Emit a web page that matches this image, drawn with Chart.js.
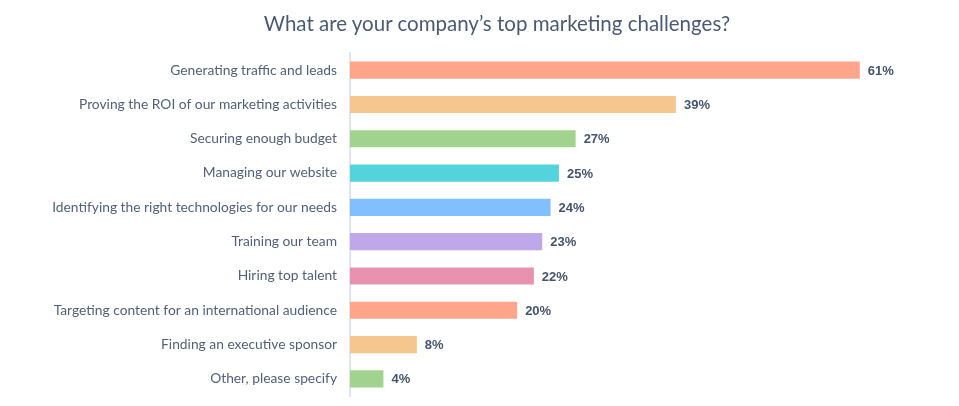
<!DOCTYPE html>
<html>
<head>
<meta charset="utf-8">
<script src="https://cdn.jsdelivr.net/npm/chart.js@4.4.0/dist/chart.umd.min.js"></script>
<style>
  html, body { margin: 0; padding: 0; background: #fff; }
  #wrap { width: 959px; height: 406px; position: relative; }
  #title {
    position: absolute; top: 11px; left: 0; width: 959px;
    box-sizing: border-box; padding-left: 35px;
    text-align: center;
    font-family: Lato, "Open Sans", sans-serif; font-size: 20.5px; line-height: 24px;
    color: #4a5a70;
  }
</style>
</head>
<body>
<div id="wrap">
  <div id="title">What are your company’s top marketing challenges?</div>
  <canvas id="challengesChart"></canvas>
</div>
<script>
// --- data ---
const categories = [
  'Generating traffic and leads',
  'Proving the ROI of our marketing activities',
  'Securing enough budget',
  'Managing our website',
  'Identifying the right technologies for our needs',
  'Training our team',
  'Hiring top talent',
  'Targeting content for an international audience',
  'Finding an executive sponsor',
  'Other, please specify'
];
const percentValues = [61, 39, 27, 25, 24, 23, 22, 20, 8, 4];
const barColors = [
  '#fea58b', '#f5c78f', '#a1d28e', '#53d3db', '#82bffe',
  '#bea8ea', '#e892b0', '#fea58b', '#f5c78f', '#a1d28e'
];

const textColor = '#516179';

// etichete cu procente la capatul barelor
const valueLabels = {
  id: 'valueLabels',
  afterDatasetsDraw(chart) {
    const ctx = chart.ctx;
    const meta = chart.getDatasetMeta(0);
    ctx.save();
    ctx.font = 'bold 13px "Liberation Sans", Arial, sans-serif';
    ctx.fillStyle = '#46546b';
    ctx.textAlign = 'left';
    ctx.textBaseline = 'middle';
    meta.data.forEach((bar, i) => {
      ctx.fillText(percentValues[i] + '%', bar.x + 8, bar.y + 1);
    });
    ctx.restore();
  }
};

new Chart(document.getElementById('challengesChart'), {
  type: 'bar',
  data: {
    labels: categories,
    datasets: [{
      data: percentValues,
      backgroundColor: barColors,
      borderWidth: 0,
      categoryPercentage: 0.5,
      barPercentage: 1.0
    }]
  },
  options: {
    indexAxis: 'y',
    responsive: true,
    maintainAspectRatio: false,
    animation: false,
    layout: { padding: { left: 0, right: 24, top: 53, bottom: 10 } },
    scales: {
      x: {
        min: 0,
        max: 70,
        display: false,
        grid: { display: false }
      },
      y: {
        afterFit(scale) {
          scale.width = 350;
          scale.paddingTop = 0;
          scale.paddingBottom = 0;
        },
        grid: { display: false, drawTicks: false },
        border: { display: true, color: '#dfe5ec', width: 2 },
        ticks: {
          padding: 13,
          color: textColor,
          font: { family: 'Lato, "Open Sans", sans-serif', size: 13.8 }
        }
      }
    },
    plugins: {
      legend: { display: false },
      tooltip: { enabled: false },
      title: { display: false }
    }
  },
  plugins: [valueLabels]
});
</script>
</body>
</html>
